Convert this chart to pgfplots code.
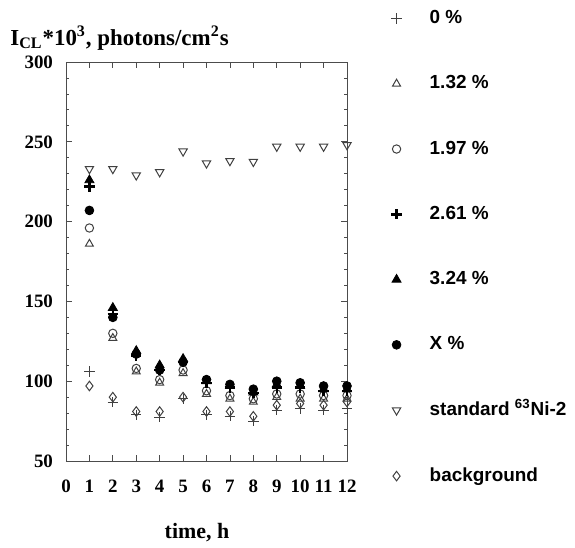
\documentclass[border=0pt]{standalone}
\usepackage{fontspec}
\setmainfont{Liberation Serif}
\setsansfont{Liberation Sans}
\usepackage{pgfplots}
\pgfplotsset{compat=1.18}
\begin{document}
\begin{tikzpicture}
\begin{axis}[name=ax, scale only axis, width=140.5bp, height=199.5bp,
  xmin=0, xmax=12, ymin=50, ymax=300,
  xtick={0,...,12}, ytick={50,100,...,300},
  minor y tick num=4,
  tick align=inside, major tick length=3bp, minor tick length=1.5bp,
  tick style={black!70, thin},
  axis line style={thin, black!70},
  /pgf/number format/assume math mode=true,
  ticklabel style={font=\fontsize{9.5}{10}\selectfont\bfseries},
  xticklabel style={yshift=-6bp},
  yticklabel style={xshift=-3bp},
  legend style={at={(axis description cs:1,1)}, anchor=north west, xshift=19bp, yshift=30bp,
    draw=none, fill=none, font=\fontsize{9.5}{10}\selectfont\sffamily\bfseries,
    row sep=20.55bp, legend cell align=left, column sep=12bp},
  every axis plot/.append style={only marks, black},
]
\addplot[mark=+, mark size=2.6pt, black!75, mark options={line width=0.4pt}] coordinates {(1,106)(2,87)(3,79)(4,77.5)(5,89)(6,79)(7,78)(8,75)(9,82)(10,83)(11,82)(12,83)};
\addlegendentry{0 \%}
\addplot[mark=triangle, mark size=2.3pt, black!75, mark options={line width=0.5pt}] coordinates {(1,186)(2,127)(3,106)(4,99)(5,105)(6,92)(7,89)(8,87)(9,90)(10,89)(11,89)(12,89)};
\addlegendentry{1.32 \%}
\addplot[mark=o, mark size=2.1pt, black!75, mark options={line width=0.5pt}] coordinates {(1,196)(2,130)(3,108)(4,101)(5,107)(6,94)(7,91)(8,89)(9,92)(10,92)(11,91)(12,91)};
\addlegendentry{1.97 \%}
\addplot[mark=+, mark size=2.6pt, black, mark options={line width=1.2pt}] coordinates {(1,222)(2,142)(3,116)(4,107)(5,112)(6,99)(7,96)(8,92.5)(9,96)(10,96)(11,94)(12,94)};
\addlegendentry{2.61 \%}
\addplot[mark=triangle*, mark size=2.6pt, black] coordinates {(1,226)(2,146)(3,119)(4,110)(5,114)(6,100)(7,97)(8,93)(9,98)(10,97)(11,95)(12,95)};
\addlegendentry{3.24 \%}
\addplot[mark=*, mark size=2.2pt, black] coordinates {(1,207)(2,140)(3,117)(4,107)(5,112)(6,101)(7,98)(8,95)(9,100)(10,99)(11,97)(12,97)};
\addlegendentry{X \%}
\addplot[mark=triangle, mark size=2.4pt, black!75, mark options={rotate=180, line width=0.5pt}] coordinates {(1,233)(2,233)(3,229)(4,231)(5,244)(6,236.5)(7,238)(8,237.5)(9,247)(10,247)(11,247)(12,248)};
\addlegendentry{standard \smash{\textsuperscript{63}}Ni-2}
\addplot[mark=diamond, mark size=2.4pt, black!75, mark options={line width=0.5pt}] coordinates {(1,97)(2,90)(3,81)(4,81)(5,90)(6,81)(7,81)(8,78)(9,85)(10,86)(11,85)(12,87)};
\addlegendentry{background}
\end{axis}
\node[anchor=base west, font=\fontsize{11.5}{12}\selectfont\bfseries, inner sep=0pt] at ([xshift=-28bp, yshift=8.5bp]ax.north west) {I\textsubscript{CL}*10\textsuperscript{3}, photons/cm\textsuperscript{2}s};
\node[anchor=base, font=\fontsize{11}{12}\selectfont\bfseries, inner sep=0pt] at ([xshift=65.5bp, yshift=-38.5bp]ax.south west) {time, h};
\pgfresetboundingbox
\path[use as bounding box] ([xshift=-33bp, yshift=-43.5bp]ax.south west) rectangle ++(287.5bp,274bp);
\end{tikzpicture}
\end{document}
